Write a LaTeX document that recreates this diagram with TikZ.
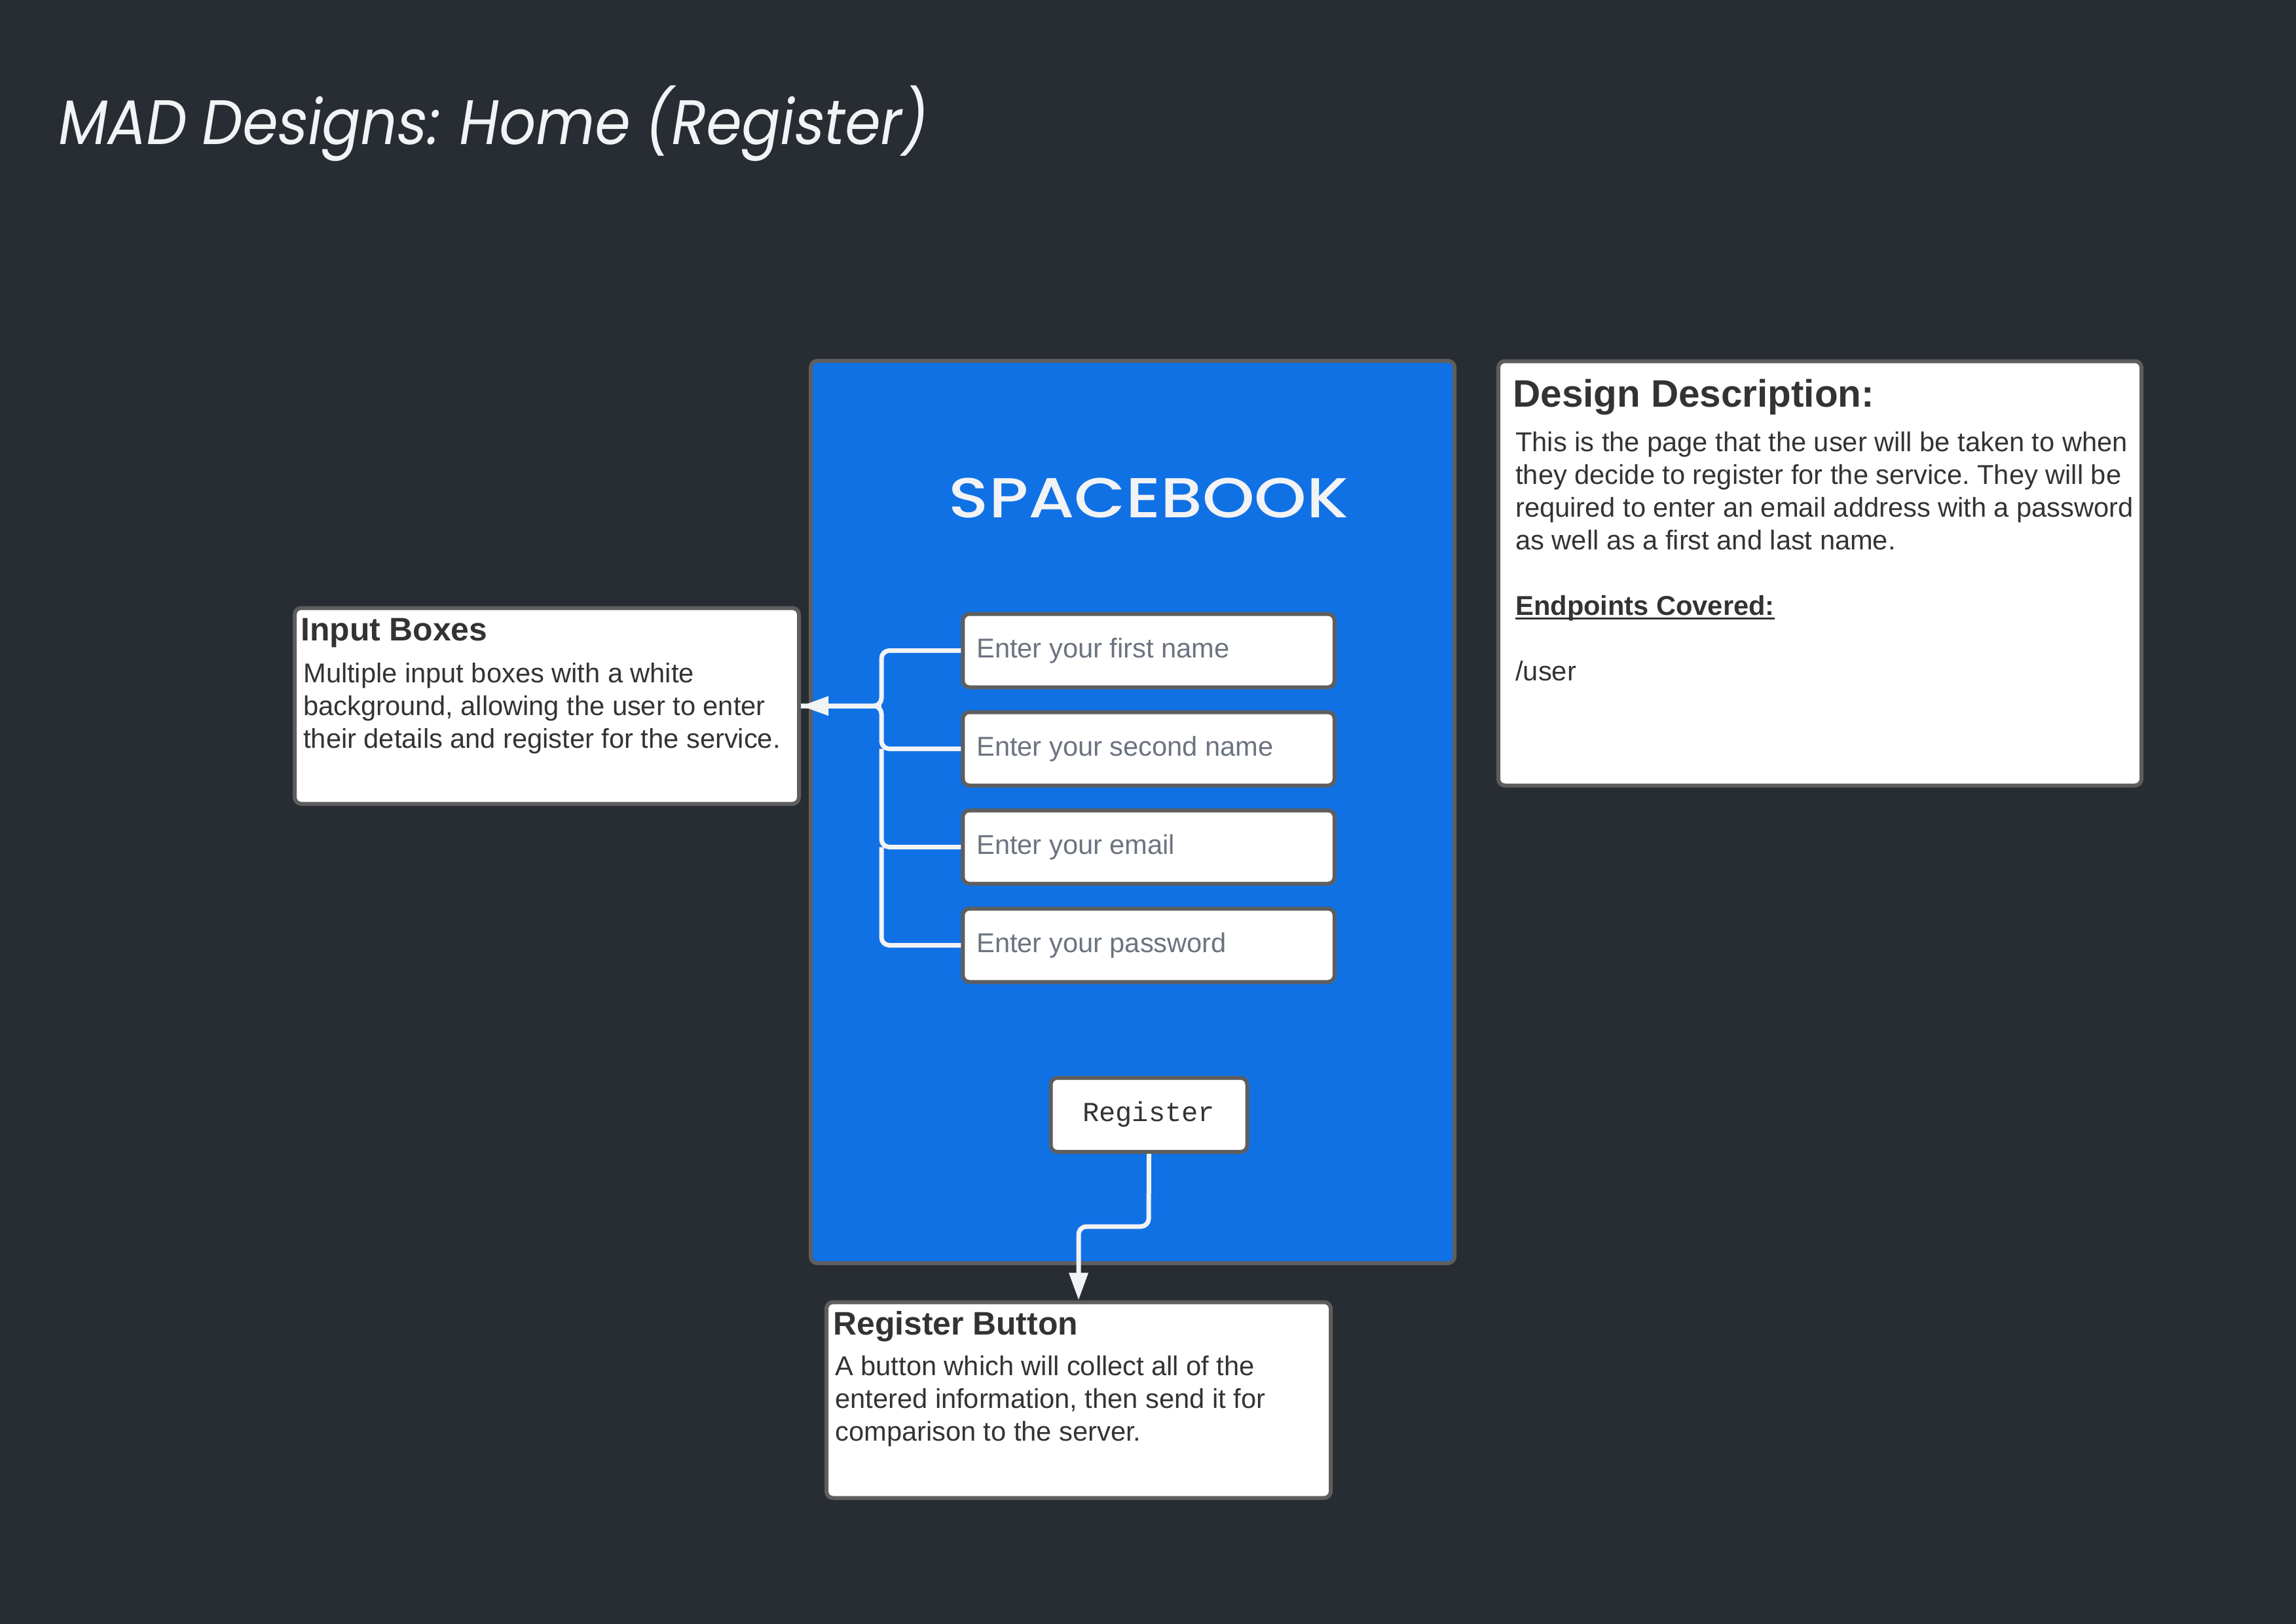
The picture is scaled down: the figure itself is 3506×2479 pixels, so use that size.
\documentclass[tikz,border=0pt]{standalone}
\usepackage{fontspec}
\usetikzlibrary{arrows.meta}
\setmainfont{Liberation Sans}
\newfontfamily\titlefont[FakeSlant=0.16,FakeStretch=0.91]{Poppins}
\newfontfamily\logofont[FakeStretch=1.178]{Poppins Medium}
\newfontfamily\btnfont{Liberation Mono}
\definecolor{pagebg}{HTML}{282C33}
\definecolor{panelblue}{HTML}{1071E5}
\definecolor{edgegrey}{HTML}{5E5E5E}
\definecolor{wire}{HTML}{F2F3F5}
\definecolor{inktext}{HTML}{333333}
\definecolor{hint}{HTML}{6C7380}
\newcommand{\tightul}[1]{\setbox0\hbox{#1}\rlap{\copy0}\rule[-3pt]{\wd0}{1.5pt}}
\tikzset{
  x=0.5pt,y=-0.5pt,
  card/.style={draw=edgegrey,fill=white,line width=3pt,rounded corners=5pt,inner sep=0pt},
  inputbox/.style={card,minimum width=283.75pt,minimum height=56pt},
  hinttext/.style={anchor=base west,inner sep=0pt,text=hint,font=\fontsize{20.8}{25}\selectfont},
  bodytext/.style={anchor=north west,inner sep=0pt,align=left,text=inktext,font=\frenchspacing\fontsize{20.8}{25}\selectfont},
  headtext/.style={anchor=base west,inner sep=0pt,text=inktext,font=\bfseries\fontsize{24.9}{30}\selectfont},
  wireline/.style={draw=wire,line width=3.5pt,rounded corners=6pt},
  wirearrow/.style={wireline,-{Triangle[length=21pt,width=14pt]}}
}
\begin{document}
\begin{tikzpicture}
\useasboundingbox (0,0) rectangle (3506,2479);
\fill[pagebg] (-20,-20) rectangle (3526,2499);
\node[anchor=base west,inner sep=0pt,text=wire,font=\titlefont\fontsize{48}{50}\selectfont] (title) at (85,220) {MAD Designs: Home (Register)};
\node[card,fill=panelblue,minimum width=491.5pt,minimum height=689pt] (panel) at (1729.5,1240) {};
\node[card,minimum width=491pt,minimum height=324pt] (desc) at (2779,875.5) {};
\node[card,minimum width=385pt,minimum height=149.5pt] (inputs) at (835,1078) {};
\node[card,minimum width=385pt,minimum height=149.5pt] (regbox) at (1647,2138) {};
\node[anchor=base,inner sep=0pt,text=wire,font=\logofont\fontsize{43}{45}\selectfont] (logo) at (1754,790) {SPACEBOOK};
\node[inputbox] (first) at (1754,993.5) {};
\node[inputbox] (second) at (1754,1143.5) {};
\node[inputbox] (email) at (1754,1293.5) {};
\node[inputbox] (pass) at (1754,1443.5) {};
\node[hinttext] (t1) at (1491,1004.5) {Enter your first name};
\node[hinttext] (t2) at (1491,1154.5) {Enter your second name};
\node[hinttext] (t3) at (1491,1304.5) {Enter your email};
\node[hinttext] (t4) at (1491,1454.5) {Enter your password};
\node[card,minimum width=150pt,minimum height=56.5pt] (reg) at (1754.5,1702.5) {};
\node[anchor=base,inner sep=0pt,text=inktext,font=\btnfont\fontsize{21}{25}\selectfont] (regt) at (1754,1712) {Register};
\node[headtext] (h1) at (2310,621) {\fontsize{29.2}{30}\selectfont Design Description:};
\node[bodytext] (b1) at (2314,659) {This is the page that the user will be taken to when\\they decide to register for the service. They will be\\required to enter an email address with a password\\as well as a first and last name.\\[25pt]\textbf{\tightul{Endpoints Covered:}}\\[25pt]/user};
\node[headtext] (h2) at (459,978) {Input Boxes};
\node[bodytext] (b2) at (463,1012) {Multiple input boxes with a white\\background, allowing the user to enter\\their details and register for the service.};
\node[headtext] (h3) at (1272,2038) {Register Button};
\node[bodytext] (b3) at (1275,2070) {A button which will collect all of the\\entered information, then send it for\\comparison to the server.};
\coordinate (trunk) at (1346,1078);
\coordinate (bend) at (1754,1873);
\draw[wireline] (first.west) -- (first.west -| trunk) -- (trunk) -- (inputs.east |- trunk);
\draw[wireline] (second.west) -- (second.west -| trunk) -- (trunk) -- (inputs.east |- trunk);
\draw[wireline] (email.west) -- (email.west -| trunk) -- (second.west -| trunk);
\draw[wireline] (pass.west) -- (pass.west -| trunk) -- (email.west -| trunk);
\draw[wirearrow] (trunk) -- (inputs.east |- trunk);
\draw[wirearrow] (reg.south) -- (bend) -- (regbox.north |- bend) -- (regbox.north);
\end{tikzpicture}
\end{document}
